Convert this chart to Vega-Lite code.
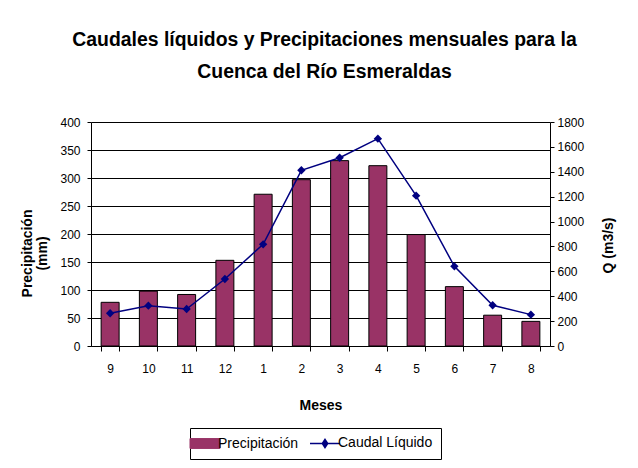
{
  "$schema": "https://vega.github.io/schema/vega-lite/v6.json",
  "width": 459,
  "height": 224,
  "autosize": {"type": "none"},
  "padding": {"left": 91, "top": 122, "right": 88, "bottom": 122},
  "background": "white",
  "config": {
    "font": "Liberation Sans",
    "view": {"stroke": null},
    "axis": {"labelFont": "Liberation Sans", "labelFontSize": 12, "labelColor": "black", "titleFont": "Liberation Sans", "titleFontSize": 14, "titleFontWeight": "bold", "titleColor": "black", "domainColor": "black", "tickColor": "black", "gridColor": "black", "gridOpacity": 1}
  },
  "title": {
    "text": ["Caudales líquidos y Precipitaciones mensuales para la", "Cuenca del Río Esmeraldas"],
    "font": "Liberation Sans",
    "fontSize": 19.4,
    "fontWeight": "bold",
    "color": "black",
    "lineHeight": 32,
    "anchor": "middle",
    "dx": 4,
    "offset": 34
  },
  "data": {
    "values": [
      {"mes": "9", "orden": 1, "precip": 78, "caudal": 263},
      {"mes": "10", "orden": 2, "precip": 98, "caudal": 324},
      {"mes": "11", "orden": 3, "precip": 92, "caudal": 297},
      {"mes": "12", "orden": 4, "precip": 153, "caudal": 538},
      {"mes": "1", "orden": 5, "precip": 271, "caudal": 817},
      {"mes": "2", "orden": 6, "precip": 297, "caudal": 1412},
      {"mes": "3", "orden": 7, "precip": 331, "caudal": 1513},
      {"mes": "4", "orden": 8, "precip": 322, "caudal": 1666},
      {"mes": "5", "orden": 9, "precip": 199, "caudal": 1208},
      {"mes": "6", "orden": 10, "precip": 106, "caudal": 640},
      {"mes": "7", "orden": 11, "precip": 55, "caudal": 327},
      {"mes": "8", "orden": 12, "precip": 44, "caudal": 252}
    ]
  },
  "encoding": {
    "x": {
      "field": "mes",
      "type": "ordinal",
      "sort": {"field": "orden"},
      "scale": {"paddingInner": 0.53, "paddingOuter": 0.265},
      "axis": {"title": "Meses", "labelAngle": 0, "tickBand": "extent", "tickSize": 5, "labelPadding": 12, "titlePadding": 24, "domainWidth": 1}
    }
  },
  "layer": [
    {
      "mark": {"type": "bar", "stroke": "black", "strokeWidth": 1},
      "encoding": {
        "y": {
          "field": "precip",
          "type": "quantitative",
          "scale": {"domain": [0, 400], "nice": false},
          "axis": {"title": ["Precipitación", "(mm)"], "values": [0, 50, 100, 150, 200, 250, 300, 350, 400], "grid": true, "tickSize": 4, "labelPadding": 7, "titlePadding": 10, "titleLineHeight": 15, "titleY": 131}
        },
        "color": {
          "datum": "Precipitación",
          "type": "nominal",
          "scale": {"domain": ["Precipitación", "Caudal Líquido"], "range": ["#993366", "#000080"]},
          "legend": {
            "title": null,
            "orient": "none",
            "legendX": 99,
            "legendY": 306,
            "direction": "horizontal",
            "labelFont": "Liberation Sans",
            "labelFontSize": 14,
            "labelColor": "black",
            "strokeColor": "black",
            "padding": 8,
            "symbolSize": 900,
            "columnPadding": 8,
            "labelOffset": 6,
            "encoding": {
              "symbols": {
                "shape": {"value": {"expr": "datum.value === 'Precipitación' ? 'M-1,-0.33H1V0.33H-1Z' : 'M-1,0H1M0,-0.27L0.18,0L0,0.27L-0.18,0Z'"}},
                "fill": {"value": {"expr": "datum.value === 'Precipitación' ? '#993366' : '#000080'"}},
                "stroke": {"value": {"expr": "datum.value === 'Precipitación' ? 'black' : '#000080'"}},
                "strokeWidth": {"value": {"expr": "datum.value === 'Precipitación' ? 1 : 1.5"}},
                "opacity": {"value": 1},
                "fillOpacity": {"value": 1}
              }
            }
          }
        }
      }
    },
    {
      "mark": {"type": "line", "strokeWidth": 1.5, "point": {"shape": "diamond", "size": 70, "filled": true, "color": "#000080", "opacity": 1}},
      "encoding": {
        "y": {
          "field": "caudal",
          "type": "quantitative",
          "scale": {"domain": [0, 1800], "nice": false},
          "axis": {"orient": "right", "title": "Q (m3/s)", "titleAngle": -90, "format": "d", "values": [0, 200, 400, 600, 800, 1000, 1200, 1400, 1600, 1800], "grid": false, "tickSize": 4, "labelPadding": 3, "titlePadding": 32, "titleY": 123}
        },
        "color": {"datum": "Caudal Líquido", "type": "nominal", "legend": null}
      }
    }
  ],
  "resolve": {"scale": {"y": "independent"}}
}
